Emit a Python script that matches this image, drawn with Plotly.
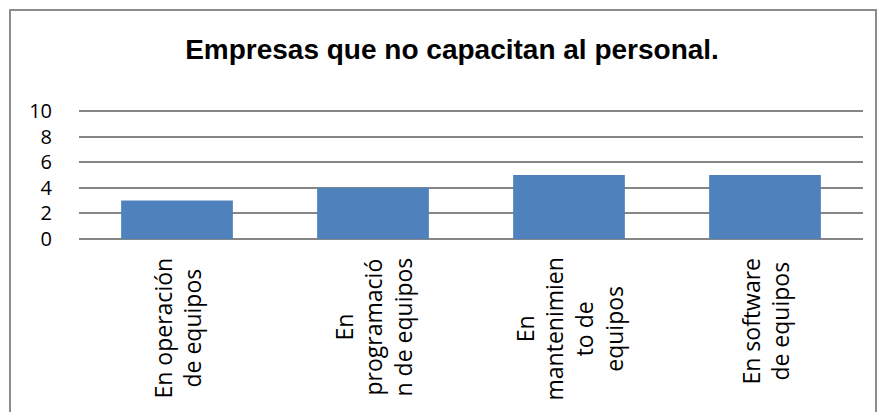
import plotly.graph_objects as go

title_text = "Empresas que no capacitan al personal."
categories = ["En operación de equipos", "En programación de equipos",
              "En mantenimiento de equipos", "En software de equipos"]
tick_labels = ["En operación<br>de equipos",
               "En<br>programació<br>n de equipos",
               "En<br>mantenimien<br>to de<br>equipos",
               "En software<br>de equipos"]
values = [3, 4, 5, 5]
y_ticks = [0, 2, 4, 6, 8, 10]

W, H = 879, 412
L, R, T, B = 79, 16, 109, 173
pw, ph = W - L - R, H - T - B
grid = "#868686"
ymax = 10.15

fig = go.Figure()
fig.add_trace(go.Bar(x=categories, y=values, marker=dict(color="#4F81BD", line=dict(width=0)),
                     hoverinfo="skip"))

for c, lab in zip(categories, tick_labels):
    fig.add_annotation(x=c, y=0, xref="x", yref="y", yanchor="top", xanchor="center",
                       yshift=-17, text=lab, textangle=-90, showarrow=False, align="center",
                       font=dict(family="Open Sans", size=23, color="black"))

def px_x(p):
    return (p - L) / pw

def px_y(p):
    return (H - B - p) / ph

fig.add_shape(type="rect", xref="paper", yref="paper",
              x0=px_x(10), x1=px_x(876), y0=px_y(430), y1=px_y(10),
              line=dict(color="#8c8c8c", width=2), fillcolor="rgba(0,0,0,0)", layer="below")

fig.update_layout(
    width=W, height=H,
    margin=dict(l=L, r=R, t=T, b=B),
    paper_bgcolor="white", plot_bgcolor="white",
    showlegend=False, bargap=0.43,
    title=dict(text="<b>" + title_text + "</b>", x=452 / W, xanchor="center",
               y=1 - 49 / H, yanchor="middle",
               font=dict(family="Liberation Sans", size=28, color="black")),
    xaxis=dict(showticklabels=False, showgrid=False, showline=False, zeroline=False,
               fixedrange=True),
    yaxis=dict(range=[0, ymax], tickvals=y_ticks, showgrid=True, gridcolor=grid, gridwidth=1.5,
               zeroline=True, zerolinecolor=grid, zerolinewidth=1.5, showline=False,
               ticklabelstandoff=26,
               tickfont=dict(family="Open Sans", size=20, color="black"), fixedrange=True),
)

fig.write_html("out.html", config={"displayModeBar": False},
               post_script="document.body.style.margin='0';document.body.style.overflow='hidden';")
